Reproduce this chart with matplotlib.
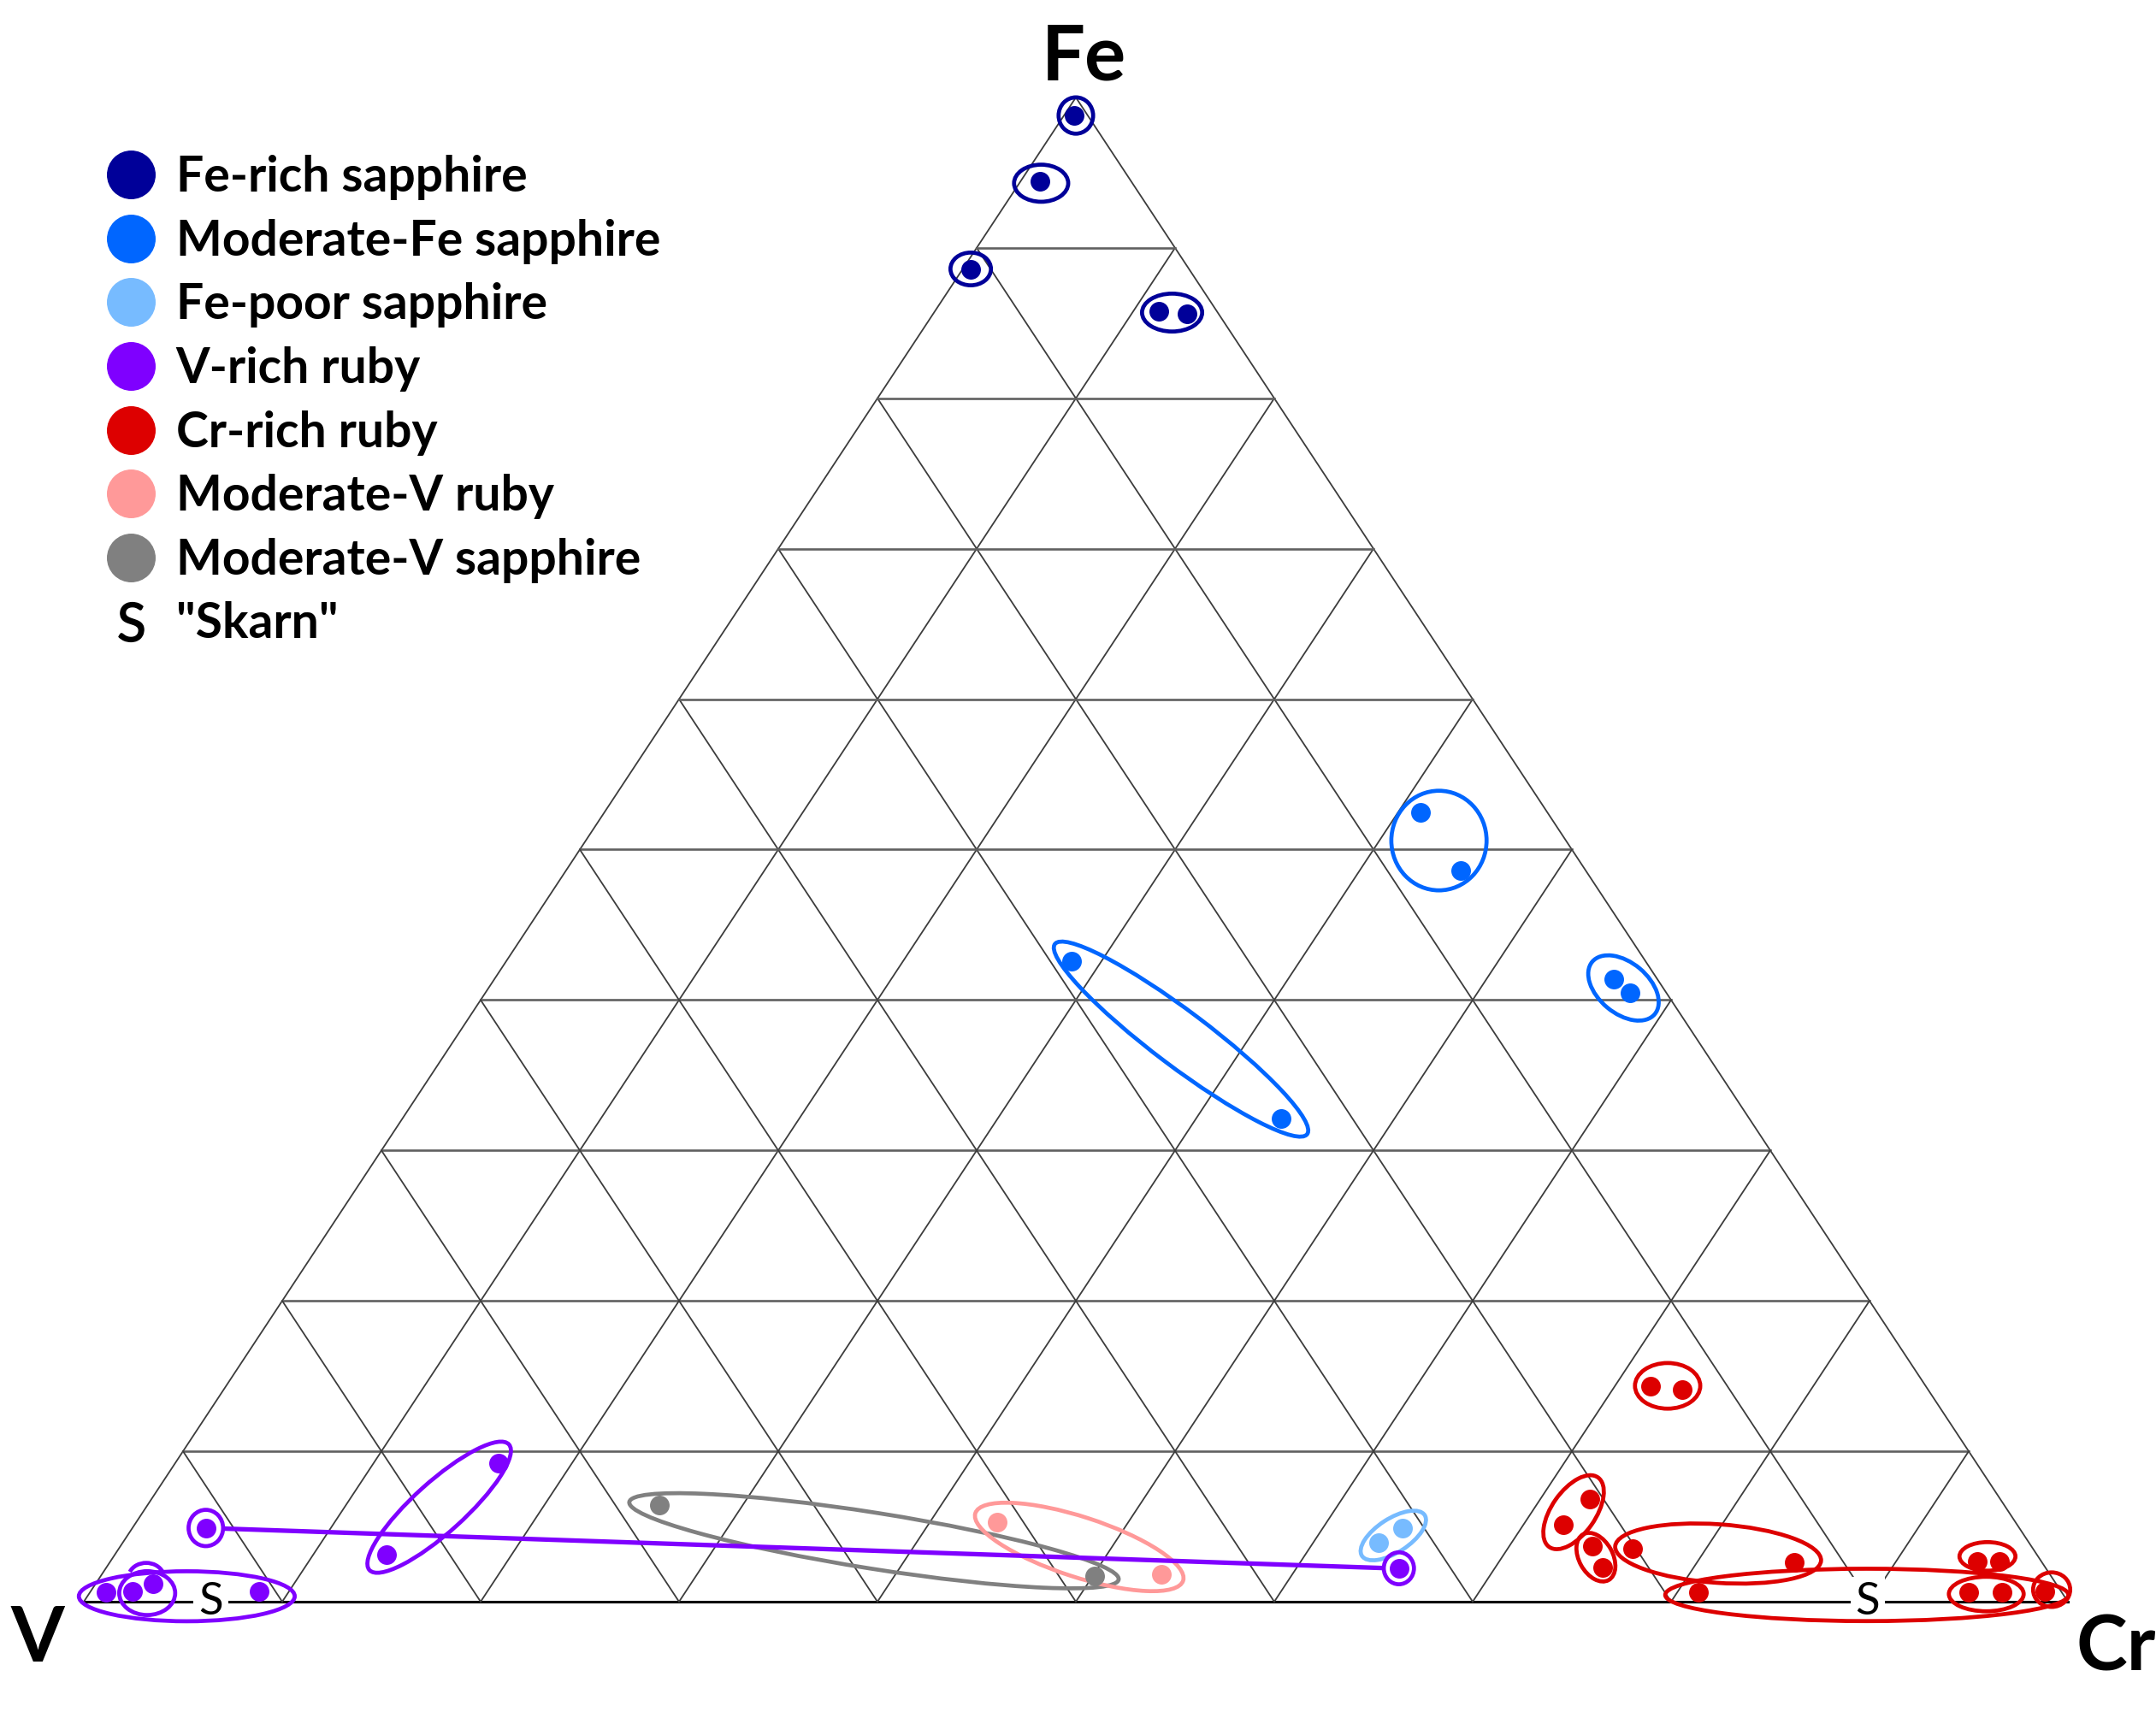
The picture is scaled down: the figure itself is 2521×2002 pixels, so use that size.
import numpy as np
import matplotlib
matplotlib.use("Agg")
import matplotlib.pyplot as plt
from matplotlib.patches import Ellipse, Arc
from matplotlib.lines import Line2D

plt.rcParams['font.family'] = ['Lato', 'DejaVu Sans']
plt.rcParams['mathtext.fontset'] = 'custom'
plt.rcParams['mathtext.rm'] = 'Lato'

# Fe and Cr in % of Fe+Cr+V (V is the rest)
fe_rich_fe = [98.8, 94.4, 88.6, 85.8, 85.6]
fe_rich_cr = [0.5, 1.0, 0.4, 11.3, 12.8]
mod_fe_fe = [52.5, 48.6, 41.4, 40.5, 42.6, 32.1]
mod_fe_cr = [41.1, 45.1, 56.4, 57.7, 28.5, 44.3]
fe_poor_fe = [3.9, 4.9]
fe_poor_cr = [63.3, 64.0]
v_rich_fe = [4.9, 3.1, 9.2, 0.6, 0.7, 1.2, 0.7, 2.2]
v_rich_cr = [3.7, 13.7, 16.3, 0.8, 2.1, 2.9, 8.5, 65.2]
cr_rich_fe = [14.3, 14.1, 6.8, 5.1, 3.7, 2.3, 3.5, 2.6, 0.6, 2.7, 2.7, 0.6, 0.6, 0.7]
cr_rich_cr = [71.8, 73.5, 72.5, 72.0, 74.2, 75.4, 76.3, 84.9, 81.1, 94.1, 95.2, 94.7, 96.4, 98.5]
mod_v_ruby_fe = [5.3, 1.8]
mod_v_ruby_cr = [43.4, 53.4]
mod_v_sapph_fe = [6.4, 1.7]
mod_v_sapph_cr = [25.8, 50.1]

labels = ['Fe-rich sapphire', 'Moderate-Fe sapphire', 'Fe-poor sapphire', 'V-rich ruby',
          'Cr-rich ruby', 'Moderate-V ruby', 'Moderate-V sapphire']
colors = ['#000099', '#0066ff', '#77bbff', '#7f00ff', '#dd0000', '#ff9999', '#808080']
groups = [(fe_rich_fe, fe_rich_cr), (mod_fe_fe, mod_fe_cr), (fe_poor_fe, fe_poor_cr),
          (v_rich_fe, v_rich_cr), (cr_rich_fe, cr_rich_cr), (mod_v_ruby_fe, mod_v_ruby_cr),
          (mod_v_sapph_fe, mod_v_sapph_cr)]

# the two skarn V-rich rubies that are joined by a line
skarn_link = (0, 7)
# "S" marks on the Fe = 0 edge, Cr %
skarn_cr = [6.4, 89.9]

# group outlines: colour index, Fe %, Cr %, width, height (% of side), angle
outlines = [
    (0, 98.8, 0.6, 1.94, 2.03, 0),
    (0, 94.3, 1.1, 2.93, 2.07, 0),
    (0, 88.6, 0.4, 2.24, 1.85, 0),
    (0, 85.7, 12.0, 3.23, 2.11, 0),
    (1, 50.6, 43.0, 5.0, 5.22, 0),
    (1, 40.8, 57.2, 4.31, 2.76, -40),
    (1, 37.4, 36.6, 16.12, 2.97, -37),
    (2, 4.4, 63.8, 3.97, 1.90, 33),
    (6, 4.05, 37.8, 25.17, 3.02, -9),
    (5, 3.64, 48.35, 11.21, 3.23, -18),
    (3, 4.9, 3.7, 1.94, 2.03, 0),
    (3, 6.28, 14.77, 9.66, 2.76, 42),
    (3, 0.36, 5.01, 11.08, 2.72, 0),
    (3, 0.57, 2.91, 3.02, 2.41, 0),
    (3, 2.22, 65.17, 1.72, 1.81, 0),
    (4, 14.35, 72.65, 3.49, 2.50, 0),
    (4, 5.95, 72.11, 4.48, 2.41, 55),
    (4, 2.96, 74.73, 2.84, 1.90, -61),
    (4, 3.20, 80.77, 10.60, 3.15, -4),
    (4, 0.45, 89.64, 20.52, 2.84, 0),
    (4, 3.01, 94.44, 3.02, 1.64, 0),
    (4, 0.51, 95.63, 3.97, 1.94, 0),
    (4, 0.80, 98.78, 2.07, 1.94, 0),
]

H = 0.7582  # height / side of the (squashed) triangle
SIDE_PX = 2320


def tern(fe, cr):
    fe = np.asarray(fe, dtype=float) / 100
    cr = np.asarray(cr, dtype=float) / 100
    return cr + fe / 2, fe * H


fig = plt.figure(figsize=(25.21, 20.02), dpi=100)
ax = fig.add_axes([0, 0, 1, 1])
ax.set_xlim(-98 / SIDE_PX, (2521 - 98) / SIDE_PX)
ax.set_ylim(-(2002 - 1873) / SIDE_PX, 1873 / SIDE_PX)
ax.axis('off')

# grid, 10 % steps
for k in range(10):
    t = 10 * k
    x, y = tern([t, t], [0, 100 - t])
    if k == 0:
        ax.plot(x, y, color='black', lw=2.2, zorder=1)
    else:
        ax.plot(x, y, color='#606060', lw=1.9, zorder=1)
    x, y = tern([0, 100 - t], [t, t])
    ax.plot(x, y, color='#3c3c3c', lw=1.3, zorder=1)
    x, y = tern([0, 100 - t], [100 - t, 0])
    ax.plot(x, y, color='#3c3c3c', lw=1.3, zorder=1)

for ci, fe, cr, w, h, ang in outlines:
    ax.add_patch(Ellipse(tern(fe, cr), (w - 0.2) / 100, (h - 0.2) / 100, angle=ang,
                         fill=False, ec=colors[ci], lw=3.4, zorder=2))
ax.add_patch(Arc(tern(1.59, 2.35), 0.018, 0.015, theta1=20, theta2=160,
                 ec=colors[3], lw=3.4, zorder=2))

# line joining the two skarn V-rich rubies
i0, i1 = skarn_link
p0 = np.array(tern(v_rich_fe[i0], v_rich_cr[i0]))
p1 = np.array(tern(v_rich_fe[i1], v_rich_cr[i1]))
d = (p1 - p0) / np.hypot(*(p1 - p0))
a, b = p0 + d * 0.0095, p1 - d * 0.0085
ax.plot([a[0], b[0]], [a[1], b[1]], color=colors[3], lw=3.8, zorder=2, solid_capstyle='butt')

for (fe, cr), c in zip(groups, colors):
    x, y = tern(fe, cr)
    ax.plot(x, y, ls='none', marker='o', ms=15.5, color=c, zorder=3)

# S sits on a white patch that hides the grid, but not the outlines
for cr in skarn_cr:
    ax.text(*tern(0, cr), 'S', ha='center', va='center', fontsize=38, zorder=1.5,
            bbox=dict(fc='white', ec='none', pad=4))

ax.annotate('Fe', xy=tern(100, 0), xytext=(6.5, 14.6), textcoords='offset points',
            ha='center', va='baseline', fontsize=65, fontweight='bold')
ax.annotate('V', xy=tern(0, 0), xytext=(-38.9, -50.4), textcoords='offset points',
            ha='center', va='baseline', fontsize=65, fontweight='bold')
ax.annotate('Cr', xy=tern(0, 100), xytext=(7.2, -57.6), textcoords='offset points',
            ha='left', va='baseline', fontsize=65, fontweight='bold', annotation_clip=False)

handles = [Line2D([], [], ls='none', marker='o', ms=40, color=c) for c in colors]
handles.append(Line2D([], [], ls='none', marker=r'$\mathrm{S}$', ms=33, color='black'))
ax.legend(handles, labels + ['"Skarn"'], loc='upper left',
          bbox_to_anchor=(123 / 2521, 1 - 181 / 2002), bbox_transform=fig.transFigure,
          frameon=False, prop={'size': 41, 'weight': 'bold'}, handlelength=1.05,
          handletextpad=0.4, labelspacing=0.38, borderpad=0, borderaxespad=0)

fig.savefig('out.png', dpi=100)
